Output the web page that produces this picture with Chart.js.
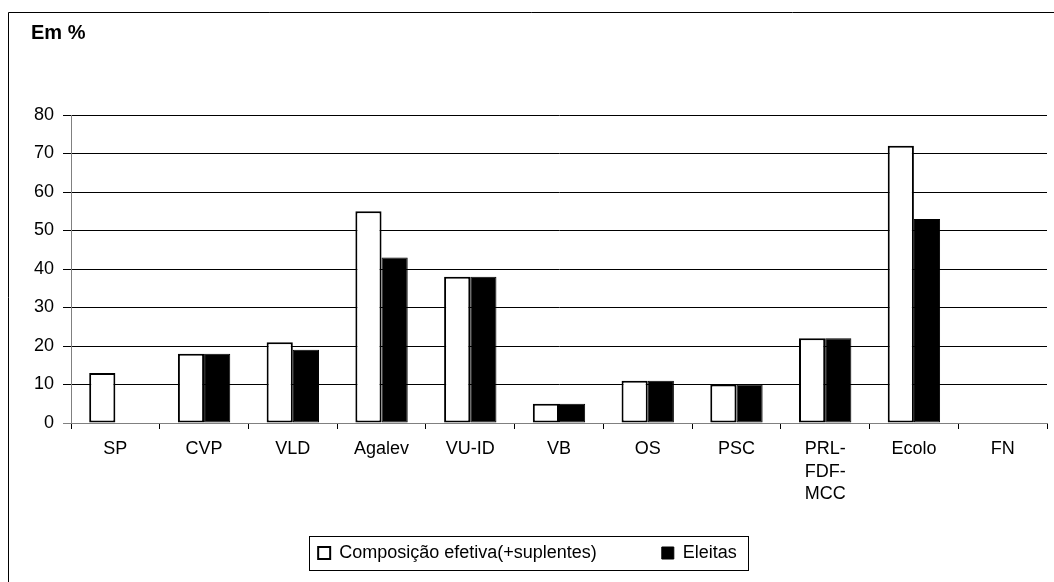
<!DOCTYPE html>
<html>
<head>
<meta charset="utf-8">
<script src="https://cdn.jsdelivr.net/npm/chart.js@4/dist/chart.umd.min.js"></script>
<style>
  html, body { margin: 0; padding: 0; background: #fff; }
  #wrap { position: relative; width: 1054px; height: 582px; }
</style>
</head>
<body>
<div id="wrap"><canvas id="chart"></canvas></div>
<script>
// data
const categories = ['SP', 'CVP', 'VLD', 'Agalev', 'VU-ID', 'VB', 'OS', 'PSC', ['PRL-', 'FDF-', 'MCC'], 'Ecolo', 'FN'];
const composicao = [13, 18, 21, 55, 38, 5, 11, 10, 22, 72, 0];
const eleitas = [0, 18, 19, 43, 38, 5, 11, 10, 22, 53, 0];
const yMin = 0;
const yMax = 80;
const yStep = 10;

const FONT = '"Liberation Sans", Arial, sans-serif';
Chart.defaults.font.family = FONT;
Chart.defaults.font.size = 18;
Chart.defaults.color = '#000';

const LEGEND_PAD = 65;
const LEGEND_TOP = 479;

// outer frame, title and the box round the legend
const framePlugin = {
  id: 'frame',
  afterLayout(chart) {
    // legend sits over the lower part of the x axis area (3-line label)
    const lg = chart.legend;
    lg.top = LEGEND_TOP;
    lg.bottom = chart.height;
    lg.height = lg.bottom - lg.top;
  },
  beforeDraw(chart) {
    const ctx = chart.ctx;
    ctx.save();
    ctx.fillStyle = '#fff';
    ctx.fillRect(0, 0, chart.width, chart.height);
    ctx.strokeStyle = '#000';
    ctx.lineWidth = 1;
    ctx.beginPath();
    ctx.moveTo(8.5, chart.height);
    ctx.lineTo(8.5, 12.5);
    ctx.lineTo(chart.width, 12.5);
    ctx.stroke();
    ctx.font = 'bold 20px ' + FONT;
    ctx.fillStyle = '#000';
    ctx.textBaseline = 'alphabetic';
    ctx.fillText('Em %', 31, 39);
    ctx.restore();
  },
  afterDraw(chart) {
    const boxes = chart.legend.legendHitBoxes;
    if (!boxes || !boxes.length) return;
    const left = Math.min(...boxes.map(b => b.left)) - 9;
    const right = Math.max(...boxes.map(b => b.left + b.width)) + 11;
    const mid = boxes[0].top + boxes[0].height / 2;
    const ctx = chart.ctx;
    ctx.save();
    ctx.strokeStyle = '#000';
    ctx.lineWidth = 1;
    ctx.strokeRect(Math.round(left) + 0.5, Math.round(mid - 17) + 0.5, Math.round(right - left), 34);
    ctx.restore();
  }
};

new Chart(document.getElementById('chart'), {
  type: 'bar',
  data: {
    labels: categories,
    datasets: [
      {
        label: 'Composição efetiva(+suplentes)',
        data: composicao,
        backgroundColor: '#fff',
        borderColor: '#000',
        borderWidth: 2,
        borderSkipped: false,
        barPercentage: 1,
        categoryPercentage: 0.59
      },
      {
        label: 'Eleitas',
        data: eleitas,
        backgroundColor: '#000',
        borderColor: '#000',
        borderWidth: 1,
        borderSkipped: false,
        barPercentage: 1,
        categoryPercentage: 0.59
      }
    ]
  },
  options: {
    responsive: true,
    maintainAspectRatio: false,
    animation: false,
    layout: { padding: { left: 8, right: 7, top: 115, bottom: 8 } },
    plugins: {
      legend: {
        position: 'bottom',
        maxHeight: 10,
        labels: {
          boxWidth: 12,
          boxHeight: 12,
          padding: LEGEND_PAD,
          color: '#000',
          font: { size: 18 }
        }
      },
      tooltip: { enabled: false }
    },
    scales: {
      x: {
        afterFit(scale) { scale.height = 141; },
        grid: {
          offset: true,
          drawOnChartArea: false,
          tickLength: 6,
          color: '#000'
        },
        border: { color: '#808080', width: 1 },
        ticks: { padding: 9, maxRotation: 0, autoSkip: false, font: { size: 18, lineHeight: 1.25 } }
      },
      y: {
        min: yMin,
        max: yMax,
        afterFit(scale) { scale.width = 63; },
        grid: {
          color: ctx => (ctx.tick && ctx.tick.value === 0 ? '#808080' : '#000'),
          tickLength: 8
        },
        border: { color: '#808080', width: 1 },
        ticks: { stepSize: yStep, padding: 9, font: { size: 18 } }
      }
    }
  },
  plugins: [framePlugin]
});
</script>
</body>
</html>
